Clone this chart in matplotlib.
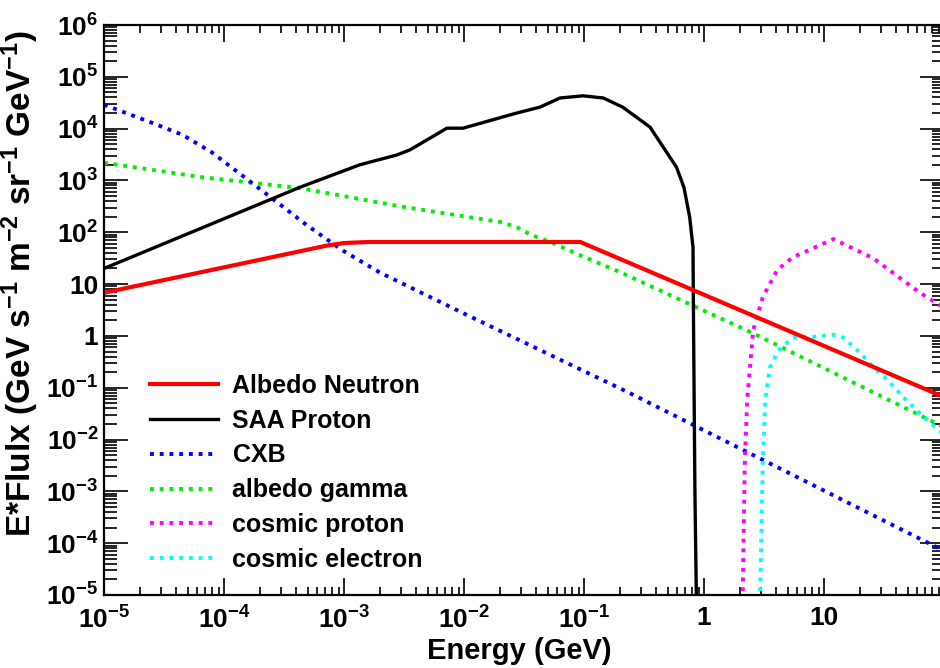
import numpy as np
import matplotlib
matplotlib.use("Agg")
import matplotlib.pyplot as plt
from matplotlib.ticker import LogLocator, FixedLocator, FixedFormatter, NullFormatter

plt.rcParams["font.family"] = ["Liberation Sans", "DejaVu Sans"]
plt.rcParams["font.weight"] = "bold"
plt.rcParams["mathtext.fontset"] = "custom"
plt.rcParams["mathtext.rm"] = "Liberation Sans:bold"
plt.rcParams["mathtext.it"] = "Liberation Sans:bold"
plt.rcParams["mathtext.bf"] = "Liberation Sans:bold"

# energies in GeV, E*flux values
neutron_e = [1e-5, 7.1e-4, 1e-3, 1.6e-3, 9.3e-2, 100]
neutron_f = [6.8, 55, 62, 65, 65, 0.066]

saa_e = [1e-5, 4.3e-4, 1.35e-3, 2.75e-3, 3.55e-3, 7.2e-3, 9.8e-3, 2.75e-2, 4.3e-2,
         6.3e-2, 9.8e-2, 0.145, 0.21, 0.355, 0.59, 0.68, 0.76, 0.81, 0.815, 0.84, 0.875]
saa_f = [20, 740, 2.0e3, 3.1e3, 3.9e3, 1.02e4, 1.02e4, 2.0e4, 2.6e4,
         3.9e4, 4.3e4, 3.9e4, 2.6e4, 1.07e4, 1.8e3, 740, 195, 51, 5, 1e-3, 1e-6]

cxb_e = [1e-5, 2.5e-5, 4.5e-5, 7.9e-5, 2.0e-4, 5.0e-4, 1e-3, 2.0e-3, 1e-2, 0.24, 100]
cxb_f = [2.9e4, 1.3e4, 7.6e3, 3.5e3, 680, 132, 43, 16.6, 2.7, 0.079, 7.1e-5]

gamma_e = [1e-5, 6.3e-5, 4.3e-4, 2.95e-3, 2.0e-2, 2.75e-2, 3.7e-2, 5.5e-2, 9.8e-2, 0.2, 2.57, 100]
gamma_f = [2.2e3, 1.17e3, 710, 316, 158, 126, 87, 62, 34, 17, 1.12, 0.0174]

cproton_e = [2.09, 2.19, 2.29, 2.57, 3.09, 4.07, 5.5, 8.1, 12.0, 25.7, 63, 100]
cproton_f = [5e-6, 4e-3, 0.058, 1.29, 5.6, 18.6, 33, 49, 74, 31.6, 6.8, 3.5]

celec_e = [2.92, 3.09, 3.24, 3.55, 4.17, 5.5, 7.9, 12.0, 14.5, 20, 25.7, 33.9, 45.7, 63, 100]
celec_f = [5e-6, 4e-3, 0.058, 0.25, 0.52, 0.93, 0.95, 1.05, 0.93, 0.47, 0.25, 0.14, 0.066, 0.032, 0.0123]

xtick_vals = [1e-5, 1e-4, 1e-3, 1e-2, 1e-1, 1, 10]
xtick_labels = [r"$10^{-5}$", r"$10^{-4}$", r"$10^{-3}$", r"$10^{-2}$", r"$10^{-1}$", "1", "10"]
ytick_vals = [1e-5, 1e-4, 1e-3, 1e-2, 1e-1, 1, 10, 1e2, 1e3, 1e4, 1e5, 1e6]
ytick_labels = [r"$10^{-5}$", r"$10^{-4}$", r"$10^{-3}$", r"$10^{-2}$", r"$10^{-1}$", "1", "10",
                r"$10^{2}$", r"$10^{3}$", r"$10^{4}$", r"$10^{5}$", r"$10^{6}$"]

fig = plt.figure(figsize=(9.4, 6.68), dpi=100)
ax = fig.add_axes([104 / 940, 73 / 668, 840 / 940, 570 / 668])

dot = (0, (1.0, 1.5))
ax.plot(gamma_e, gamma_f, color="#00ee00", lw=2.8, ls=dot, label="albedo gamma")
ax.plot(cxb_e, cxb_f, color="#0000ff", lw=2.8, ls=dot, label="CXB")
ax.plot(cproton_e, cproton_f, color="#ff00ff", lw=2.8, ls=dot, label="cosmic proton")
ax.plot(celec_e, celec_f, color="#00ffff", lw=2.8, ls=dot, label="cosmic electron")
ax.plot(saa_e, saa_f, color="black", lw=2.4, label="SAA Proton")
ax.plot(neutron_e, neutron_f, color="#ff0000", lw=3.0, label="Albedo Neutron")

ax.set_xscale("log")
ax.set_yscale("log")
ax.set_xlim(1e-5, 100)
ax.set_ylim(1e-5, 1e6)

ax.xaxis.set_major_locator(FixedLocator(xtick_vals))
ax.xaxis.set_major_formatter(FixedFormatter(xtick_labels))
ax.yaxis.set_major_locator(FixedLocator(ytick_vals))
ax.yaxis.set_major_formatter(FixedFormatter(ytick_labels))
ax.xaxis.set_minor_locator(LogLocator(base=10, subs=np.arange(2, 10), numticks=20))
ax.yaxis.set_minor_locator(LogLocator(base=10, subs=np.arange(2, 10), numticks=20))
ax.xaxis.set_minor_formatter(NullFormatter())
ax.yaxis.set_minor_formatter(NullFormatter())

ax.tick_params(axis="both", which="both", direction="in", top=True, right=True, width=1.2)
ax.tick_params(axis="x", which="major", length=12, labelsize=19, pad=8)
ax.tick_params(axis="x", which="minor", length=6)
ax.tick_params(axis="y", which="major", length=17, labelsize=19, pad=4)
ax.tick_params(axis="y", which="minor", length=9)
for s in ax.spines.values():
    s.set_linewidth(1.6)

ax.set_xlabel("Energy (GeV)", fontsize=21, fontweight="bold")
ax.xaxis.set_label_coords(0.495, -0.074)
ax.set_ylabel(r"E*Flulx (GeV s$^{-1}$ m$^{-2}$ sr$^{-1}$ GeV$^{-1}$)", fontsize=24, fontweight="bold")
ax.yaxis.set_label_coords(-0.075, 0.547)

handles, labels = ax.get_legend_handles_labels()
order = ["Albedo Neutron", "SAA Proton", "CXB", "albedo gamma", "cosmic proton", "cosmic electron"]
hmap = dict(zip(labels, handles))
ax.legend([hmap[k] for k in order], order, loc="upper left",
          bbox_to_anchor=(150 / 940, (668 - 374) / 668), bbox_transform=fig.transFigure,
          frameon=False, handlelength=2.7, handletextpad=0.6,
          labelspacing=0.43, borderpad=0, borderaxespad=0,
          prop={"weight": "bold", "size": 18})

fig.savefig("out.png", dpi=100)
